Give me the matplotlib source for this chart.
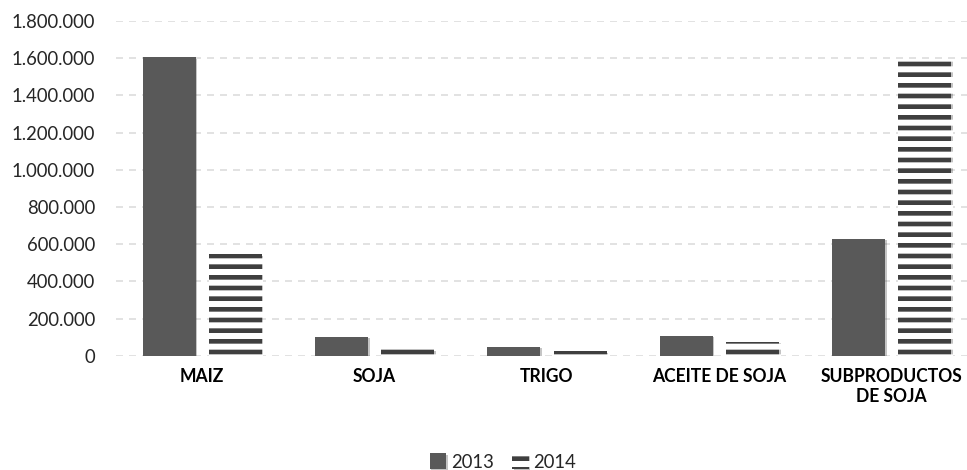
import matplotlib
matplotlib.use("Agg")
import matplotlib.pyplot as plt
import matplotlib.patheffects as pe
from matplotlib.ticker import FuncFormatter
import numpy as np

categories = ["MAIZ", "SOJA", "TRIGO", "ACEITE DE SOJA", "SUBPRODUCTOS\nDE SOJA"]
values_2013 = [1605000, 102000, 48000, 108000, 629000]
values_2014 = [547000, 34000, 24000, 75000, 1591000]
series_labels = ["2013", "2014"]
yticks = [0, 200000, 400000, 600000, 800000, 1000000, 1200000, 1400000, 1600000, 1800000]

DPI = 64
def px(v):
    return v * 72.0 / DPI

plt.rcParams["font.family"] = ["Lato", "DejaVu Sans"]
plt.rcParams["hatch.linewidth"] = px(6.0)

fig = plt.figure(figsize=(967 / DPI, 470 / DPI), dpi=DPI)
ax = fig.add_axes([116 / 967, 1 - 355.7 / 470, (978 - 116) / 967, (355.7 - 21.1) / 470])

x = np.arange(len(categories))
w = 0.3076
off = 0.192
shadow = [pe.SimplePatchShadow(offset=(px(1.5), -px(1.5)), alpha=0.25), pe.Normal()]
b1 = ax.bar(x - off, values_2013, w, color="#595959", edgecolor="none",
            label=series_labels[0], zorder=3)
b2 = ax.bar(x + off, values_2014, w, color="#3f3f3f", edgecolor="white", linewidth=0,
            hatch="-", label=series_labels[1], zorder=3)
for b in list(b1) + list(b2):
    b.set_path_effects(shadow)

ax.set_xlim(-0.5, len(categories) - 0.5)
ax.set_ylim(0, 1800000)
ax.set_yticks(yticks)
ax.yaxis.set_major_formatter(FuncFormatter(lambda v, p: f"{int(v):,}".replace(",", ".")))
ax.set_xticks(x)
ax.set_xticklabels(categories, fontweight="bold", fontsize=px(17.5), color="#000000",
                   linespacing=1.25)
ax.tick_params(axis="x", length=0, pad=px(12))
ax.tick_params(axis="y", length=0, pad=px(21), labelsize=px(18.5))
for lbl in ax.get_yticklabels():
    lbl.set_color("#262626")

ax.grid(axis="y", color="#d9d9d9", linestyle=(0, (px(7) / px(1.5), px(6) / px(1.5))),
        linewidth=px(1.5), zorder=0)
for s in ax.spines.values():
    s.set_visible(False)

leg = fig.legend(loc="center", bbox_to_anchor=(503 / 967, 1 - 462 / 470), ncol=2,
                 frameon=False, fontsize=px(18.5), handlelength=0.9, handleheight=0.9,
                 handletextpad=0.25, columnspacing=1.0)
for t in leg.get_texts():
    t.set_color("#262626")

fig.savefig("out.png", dpi=DPI, facecolor="white")
